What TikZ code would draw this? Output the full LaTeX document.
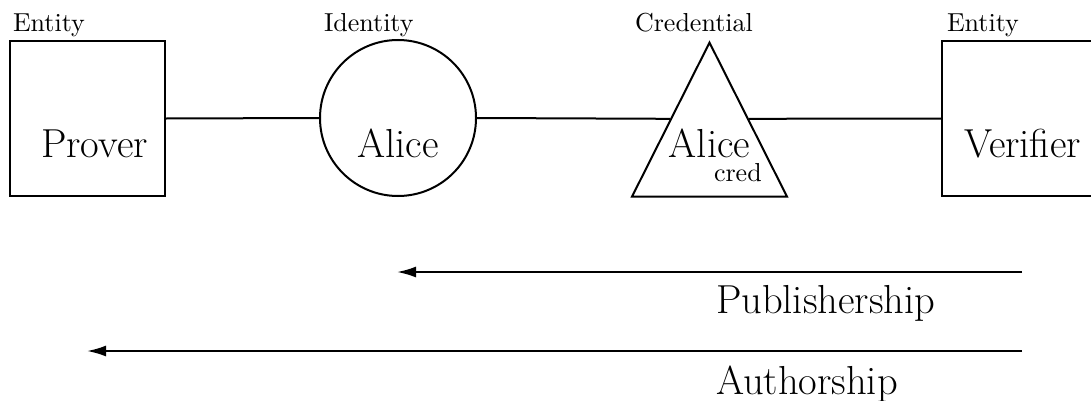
\documentclass[tikz,border=0pt]{standalone}
\usepackage{fontspec}
\setmainfont{Latin Modern Roman}
\usetikzlibrary{shapes.geometric,arrows.meta}
\begin{document}
\begin{tikzpicture}[x=0.4pt,y=-0.4pt, line width=0.8pt,
  shapebox/.style={draw, rectangle, minimum width=62pt, minimum height=62pt, inner sep=0pt},
  shapecirc/.style={draw, circle, minimum size=62.4pt, inner sep=0pt},
  shapetri/.style={draw, isosceles triangle, shape border rotate=90, isosceles triangle stretches, minimum width=62pt, minimum height=61.6pt, inner sep=0pt},
  tag/.style={font=\fontsize{10.4}{12}\selectfont, anchor=base west, inner sep=0pt},
  big/.style={font=\fontsize{16.2}{19}\selectfont, anchor=base, inner sep=0pt},
  bigw/.style={font=\fontsize{16.2}{19}\selectfont, anchor=base west, inner sep=0pt},
  arr/.style={-{Latex[length=7.6pt,width=4.4pt]}}]
\useasboundingbox (0,0) rectangle (1091,400);
% shapes
\node[shapebox] (prover) at (87.5,118.5) {};
\node[shapecirc] (alice) at (398,118) {};
\node[shapetri, anchor=apex] (cred) at (709.5,40) {};
\node[shapebox] (verifier) at (1019.5,118.5) {};
% type labels
\node[tag] (l1) at (12,31) {Entity};
\node[tag] (l2) at (323,31) {Identity};
\node[tag] (l3) at (634,31) {Credential};
\node[tag] (l4) at (946,31) {Entity};
% main texts
\node[big] (tprover) at (94.5,157) {Prover};
\node[big] (talice) at (398,157) {Alice};
\node[big] (tcred) at (709.5,157) {Alice};
\node[tag] (tsub) at (713,181) {cred};
\node[big] (tverifier) at (1022.5,157) {Verifier};
% connectors
\draw (prover.east) -- (alice.west);
\draw (alice.east) -- (cred.left side);
\draw (cred.right side) -- (verifier.west);
% arrows
\coordinate (a1s) at (1022,272);
\coordinate (a1e) at (397,272);
\coordinate (a2s) at (1022,351);
\coordinate (a2e) at (87,351);
\draw[arr] (a1s) -- (a1e);
\draw[arr] (a2s) -- (a2e);
\node[bigw] (pub) at (715,313) {Publishership};
\node[bigw] (auth) at (715,394) {Authorship};
\end{tikzpicture}
\end{document}
